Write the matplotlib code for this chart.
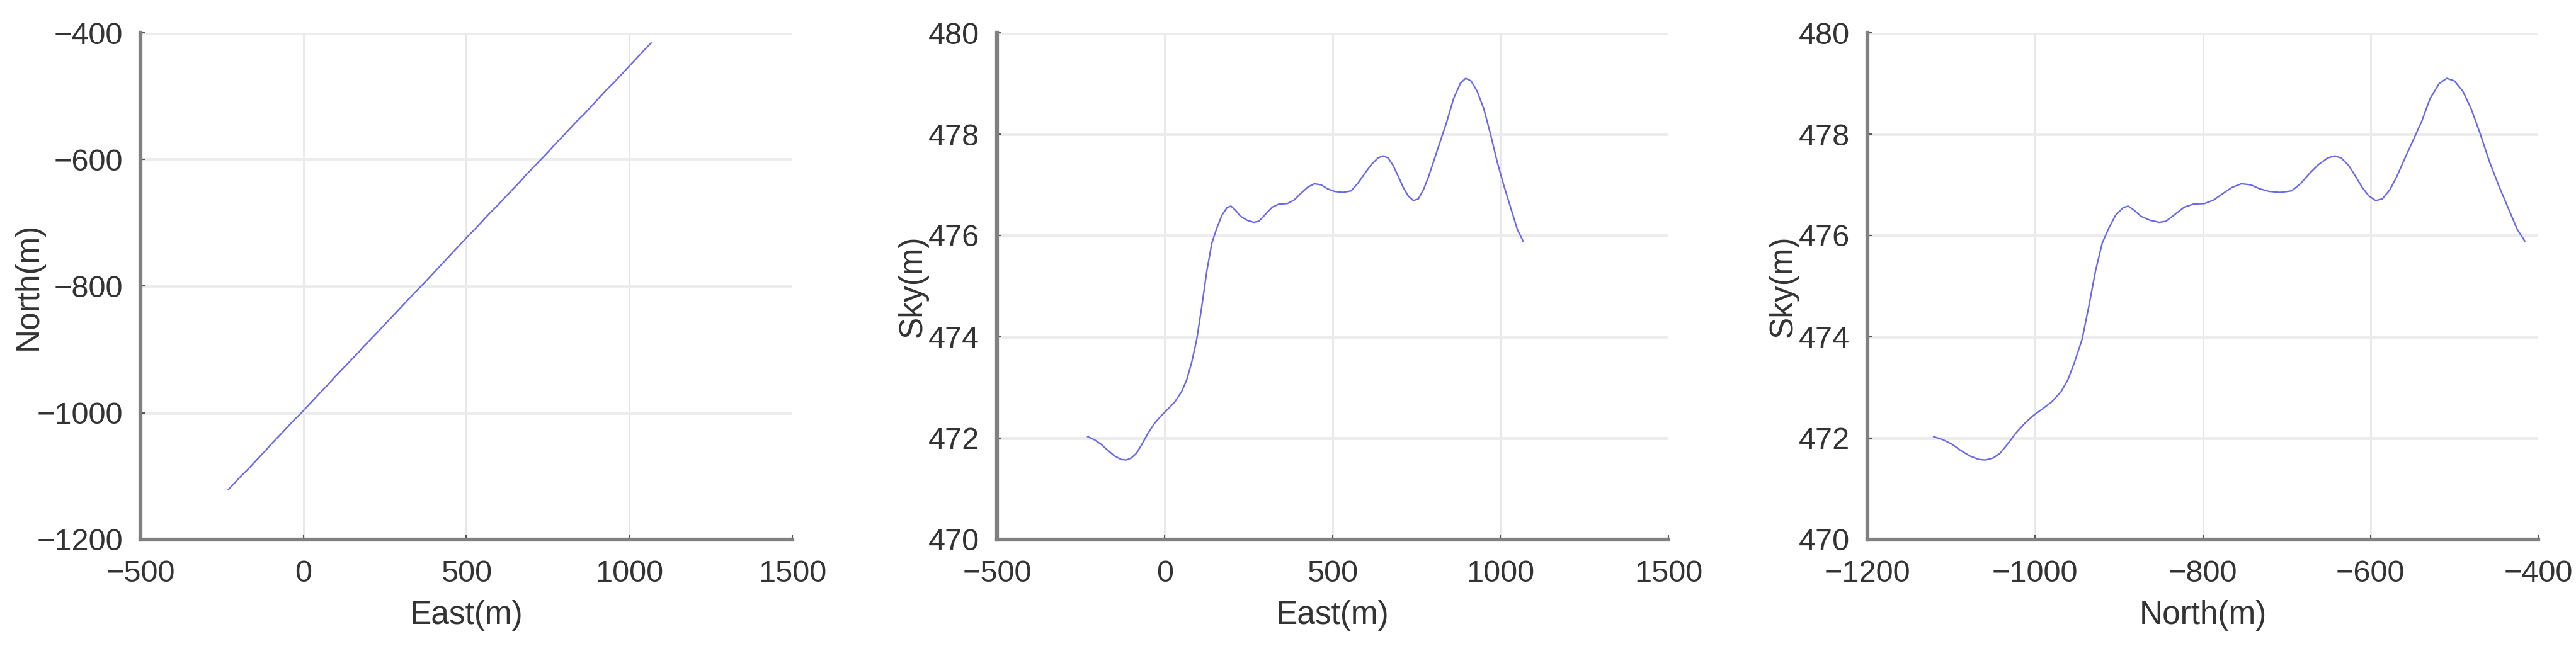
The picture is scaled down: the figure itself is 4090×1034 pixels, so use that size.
import numpy as np
from matplotlib import pyplot as plt

# trajectory samples
east = [-230, -210, -190, -170, -150, -130, -115, -100, -85, -70, -50, -30, -10, 10, 30,
        50, 65, 80, 95, 110, 125, 140, 155, 170, 185, 197, 210, 225, 245, 265,
        280, 300, 320, 340, 365, 385, 405, 425, 445, 465, 485, 505, 530, 555, 575,
        595, 615, 635, 650, 665, 680, 695, 710, 725, 740, 755, 770, 785, 800, 820,
        840, 860, 880, 896, 912, 930, 950, 970, 990, 1010, 1030, 1050, 1067]
north = [-1121, -1110, -1099, -1089, -1078, -1067, -1059, -1050, -1042, -1034, -1023, -1012,
         -1002, -991, -980, -969, -961, -953, -944, -936, -928, -920, -912, -904, -895,
         -889, -882, -874, -863, -852, -844, -833, -822, -811, -798, -787, -776, -765,
         -754, -743, -732, -721, -708, -694, -683, -673, -662, -651, -643, -635, -626,
         -618, -610, -602, -594, -586, -577, -569, -561, -550, -539, -529, -518, -509,
         -500, -490, -480, -469, -458, -447, -436, -425, -416]
sky = [472.03, 471.97, 471.88, 471.76, 471.65, 471.58, 471.57, 471.61, 471.70, 471.86,
       472.10, 472.30, 472.45, 472.58, 472.72, 472.92, 473.15, 473.50, 473.95, 474.60,
       475.30, 475.85, 476.15, 476.40, 476.55, 476.58, 476.50, 476.38, 476.30, 476.26,
       476.28, 476.42, 476.56, 476.62, 476.63, 476.70, 476.83, 476.95, 477.02, 477.00,
       476.92, 476.87, 476.85, 476.88, 477.03, 477.22, 477.40, 477.53, 477.57, 477.53,
       477.38, 477.17, 476.95, 476.78, 476.69, 476.72, 476.90, 477.15, 477.45, 477.85,
       478.25, 478.70, 479.00, 479.10, 479.05, 478.85, 478.50, 478.00, 477.45, 476.98,
       476.55, 476.12, 475.89]

east_ticks = [-500, 0, 500, 1000, 1500]
north_ticks = [-1200, -1000, -800, -600, -400]
sky_ticks = [470, 472, 474, 476, 478, 480]

plt.rcParams['font.family'] = ['Liberation Sans', 'DejaVu Sans']
plt.rcParams['axes.unicode_minus'] = True

fig = plt.figure(figsize=(40.91, 10.34), dpi=100)
bottom = 0.1712
height = 0.7785
ax1 = fig.add_axes([223 / 4091, bottom, 1035 / 4091, height])
ax2 = fig.add_axes([1583 / 4091, bottom, 1066 / 4091, height])
ax3 = fig.add_axes([2965 / 4091, bottom, 1065 / 4091, height])

linecol = '#6868ee'
ax1.plot(east, north, color=linecol, lw=1.7)
ax2.plot(east, sky, color=linecol, lw=1.7)
ax3.plot(north, sky, color=linecol, lw=1.7)

setups = [(ax1, east_ticks, north_ticks, 'East(m)', 'North(m)', -8),
          (ax2, east_ticks, sky_ticks, 'East(m)', 'Sky(m)', 0),
          (ax3, north_ticks, sky_ticks, 'North(m)', 'Sky(m)', 0)]

for ax, xt, yt, xl, yl, ylpad in setups:
    ax.set_xlim(xt[0], xt[-1])
    ax.set_ylim(yt[0], yt[-1])
    ax.set_xticks(xt)
    ax.set_yticks(yt)
    ax.set_axisbelow(True)
    ax.grid(axis='x', color='#e4e4e4', lw=1.8)
    ax.grid(axis='y', color='#ececec', lw=3.5)
    for s in ['top', 'right']:
        ax.spines[s].set_visible(False)
    for s in ['left', 'bottom']:
        ax.spines[s].set_color('#808080')
        ax.spines[s].set_linewidth(4.5)
    ax.tick_params(direction='in', length=5, width=1.5, color='#555555',
                   labelsize=35, labelcolor='#333333')
    ax.tick_params(axis='x', pad=23)
    ax.tick_params(axis='y', pad=20)
    ax.set_xlabel(xl, fontsize=37, color='#333333', labelpad=14)
    ax.set_ylabel(yl, fontsize=37, color='#333333', labelpad=ylpad)

fig.savefig('out.png', dpi=100, facecolor='white')
